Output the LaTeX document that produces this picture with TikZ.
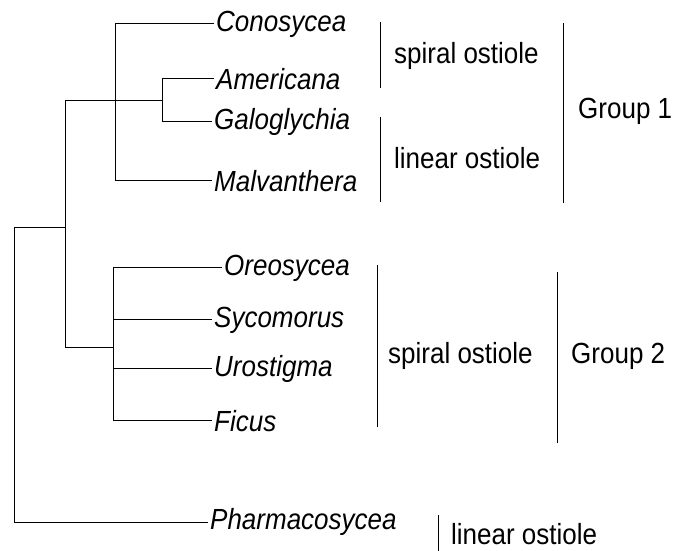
\documentclass[tikz,border=0pt]{standalone}
\usepackage{graphicx}
\usepackage{fontspec}
\setmainfont{Liberation Sans}
\newcommand\vtxt[1]{\scalebox{1}[1.12]{#1}}
\begin{document}
\begin{tikzpicture}[x=1pt,y=-1pt,
  taxon/.style={anchor=west,inner sep=2pt,font=\fontsize{26}{30}\selectfont\itshape},
  lab/.style={anchor=west,inner sep=0pt,font=\fontsize{26}{30}\selectfont},
  br/.style={line width=0.9pt},
  bar/.style={line width=1pt}]
\useasboundingbox (0,0) rectangle (673,550);
% taxa
\node[taxon] (con) at (214,24) {\vtxt{Conosycea}};
\node[taxon] (ame) at (214,79) {\vtxt{Americana}};
\node[taxon] (gal) at (212,122) {\vtxt{Galoglychia}};
\node[taxon] (mal) at (212,181) {\vtxt{Malvanthera}};
\node[taxon] (ore) at (222,268) {\vtxt{Oreosycea}};
\node[taxon] (syc) at (212,320) {\vtxt{Sycomorus}};
\node[taxon] (uro) at (212,369) {\vtxt{Urostigma}};
\node[taxon] (fic) at (212,421) {\vtxt{Ficus}};
\node[taxon] (pha) at (208,522) {\vtxt{Pharmacosycea}};
% internal nodes
\coordinate (a1) at (115,23);
\coordinate (a2) at (115,180);
\coordinate (b1) at (162,78);
\coordinate (b2) at (162,121);
\coordinate (bm) at (162,100);
\coordinate (c1) at (65,100);
\coordinate (c2) at (65,347);
\coordinate (d1) at (113,267);
\coordinate (d2) at (113,319);
\coordinate (d3) at (113,368);
\coordinate (d4) at (113,420);
\coordinate (dm) at (113,347);
\coordinate (r1) at (14,227);
\coordinate (r2) at (14,522);
% tree
\draw[br] (con.west |- a1) -- (a1) -- (a2) -- (mal.west |- a2);
\draw[br] (ame.west |- b1) -- (b1) -- (b2) -- (gal.west |- b2);
\draw[br] (bm) -- (c1) -- (c2) -- (dm);
\draw[br] (ore.west |- d1) -- (d1) -- (d4) -- (fic.west |- d4);
\draw[br] (d2) -- (syc.west |- d2);
\draw[br] (d3) -- (uro.west |- d3);
\draw[br] (c1 |- r1) -- (r1) -- (r2) -- (pha.west |- r2);
% bars and labels
\draw[bar] (380,22) -- (380,88);
\node[lab] (s1) at (394,56) {\vtxt{spiral ostiole}};
\draw[bar] (380,117) -- (380,202);
\node[lab] (l1) at (394,158) {\vtxt{linear ostiole}};
\draw[bar] (563,23) -- (563,203);
\node[lab] (g1) at (578,111) {\vtxt{Group 1}};
\draw[bar] (377,265) -- (377,427);
\node[lab] (s2) at (388,356) {\vtxt{spiral ostiole}};
\draw[bar] (557,272) -- (557,443);
\node[lab] (g2) at (571,356) {\vtxt{Group 2}};
\draw[bar] (438,515) -- (438,552);
\node[lab] (l2) at (451,534) {\vtxt{linear ostiole}};
\end{tikzpicture}
\end{document}
